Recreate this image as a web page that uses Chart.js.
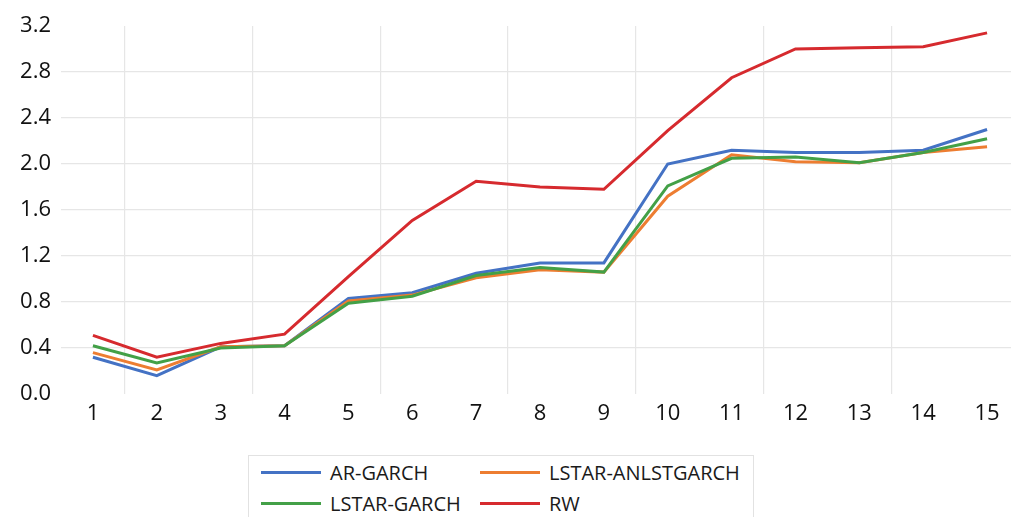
<!DOCTYPE html>
<html>
<head>
<meta charset="utf-8">
<script src="https://cdn.jsdelivr.net/npm/chart.js@4"></script>
<style>
  html, body { margin: 0; padding: 0; background: #fff; overflow: hidden; width: 1011px; height: 517px; }
  #box { position: absolute; left: 0; top: 0; width: 1030px; height: 434px; }
  #legend { position: absolute; left: 248px; top: 455px; width: 506px; height: 80px; border: 1px solid #e2e2e2; box-sizing: border-box;
            font-family: "Open Sans", sans-serif; font-size: 20px; color: #1a1a1a; }
  #legend .it { position: absolute; display: flex; align-items: center; height: 28px; }
  #legend .sw { width: 60px; height: 3px; margin-right: 9px; }
</style>
</head>
<body>
<div id="box"><canvas id="chart"></canvas></div>
<div id="legend"></div>
<script>
// horizon 1..15
const labels = ['1', '2', '3', '4', '5', '6', '7', '8', '9', '10', '11', '12', '13', '14', '15'];

const arGarch     = [0.32, 0.16, 0.41, 0.42, 0.83, 0.88, 1.05, 1.14, 1.14, 2.00, 2.12, 2.10, 2.10, 2.12, 2.30];
const lstarAnlst  = [0.36, 0.21, 0.41, 0.42, 0.81, 0.86, 1.01, 1.08, 1.06, 1.72, 2.08, 2.02, 2.01, 2.10, 2.15];
const lstarGarch  = [0.42, 0.27, 0.40, 0.42, 0.79, 0.85, 1.03, 1.10, 1.06, 1.81, 2.05, 2.06, 2.01, 2.10, 2.22];
const rw          = [0.51, 0.32, 0.44, 0.52, 1.02, 1.51, 1.85, 1.80, 1.78, 2.29, 2.75, 3.00, 3.01, 3.02, 3.14];

const names  = ['AR-GARCH', 'LSTAR-ANLSTGARCH', 'LSTAR-GARCH', 'RW'];
const colors = ['#4472C4', '#ED7D31', '#43A047', '#D62A2E'];
const series = [arGarch, lstarAnlst, lstarGarch, rw];

const datasets = series.map((d, i) => ({
  label: names[i], data: d, borderColor: colors[i], backgroundColor: colors[i],
  borderWidth: 3, pointRadius: 0, tension: 0, fill: false,
}));
// draw red on top like the original
datasets.reverse();

const tickFont = { family: '"Open Sans", sans-serif', size: 22 };

new Chart(document.getElementById('chart'), {
  type: 'line',
  data: { labels: labels, datasets: datasets },
  options: {
    responsive: true, maintainAspectRatio: false, animation: false,
    layout: { padding: { top: 26, right: 11, left: 0, bottom: 0 } },
    plugins: { legend: { display: false }, tooltip: { enabled: false } },
    scales: {
      x: {
        offset: true,
        grid: { offset: true, drawTicks: false, lineWidth: 1.2,
                color: ctx => (ctx.index % 2 === 1 ? '#e6e6e6' : 'rgba(0,0,0,0)') },
        border: { display: false },
        ticks: { font: tickFont, color: '#111', padding: 7, maxRotation: 0, autoSkip: false },
        afterFit: s => { s.height = 40; },
      },
      y: {
        min: 0, max: 3.2,
        grid: { drawTicks: false, lineWidth: 1.2,
                color: ctx => (ctx.index === 0 || ctx.index === 8 ? 'rgba(0,0,0,0)' : '#e6e6e6') },
        border: { display: false },
        ticks: { stepSize: 0.4, font: tickFont, color: '#111', padding: 10,
                 callback: v => Number(v).toFixed(1) },
        afterFit: s => { s.width = 61; },
      },
    },
  },
});

// legend laid out 2 x 2 like the source
const leg = document.getElementById('legend');
const cols = [12, 231], rows = [2, 33];
names.forEach((n, i) => {
  const it = document.createElement('div');
  it.className = 'it';
  it.style.left = cols[i % 2] + 'px';
  it.style.top = rows[Math.floor(i / 2)] + 'px';
  it.innerHTML = '<span class="sw" style="background:' + colors[i] + '"></span><span>' + n + '</span>';
  leg.appendChild(it);
});
</script>
</body>
</html>
